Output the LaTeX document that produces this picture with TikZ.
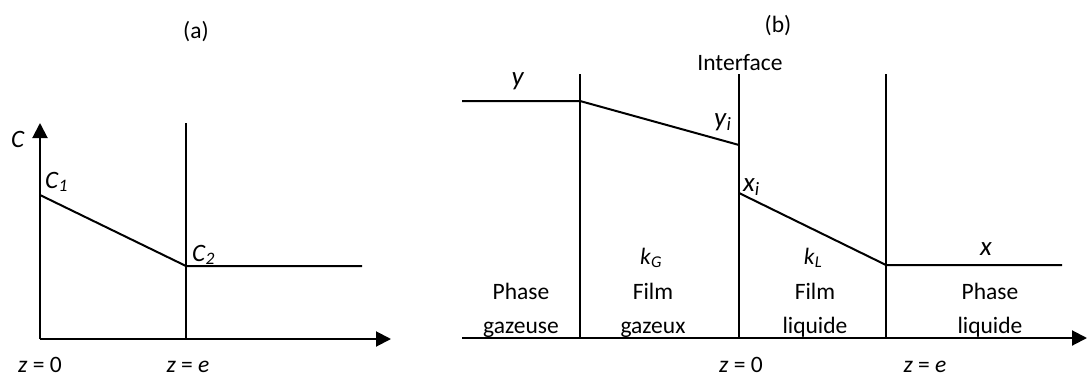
\documentclass[tikz,border=0pt]{standalone}
\usepackage{fontspec}
\setmainfont{Carlito}
\usetikzlibrary{arrows.meta}

\newcommand{\sub}[2]{\textit{#1}\textsubscript{\textit{#2}}}

\begin{document}
\begin{tikzpicture}[x=1pt, y=-1pt, line width=2pt,
	txt/.style={font=\fontsize{23.5}{28}\selectfont, inner sep=0pt, anchor=base},
	biglabel/.style={txt, font=\fontsize{27}{32}\selectfont},
	caplabel/.style={txt, font=\fontsize{25}{30}\selectfont},
	axis/.style={-{Triangle[length=15pt, width=15pt]}}]
	\useasboundingbox (0,0) rectangle (1087,378);
	% (a) concentration profile
	\node[txt] (titleA) at (196,38) {(a)};
	\coordinate (aO) at (40,339);
	\coordinate (aTop) at (40,123);
	\coordinate (aRight) at (391,339);
	\coordinate (aC1) at (40,195);
	\coordinate (aC2) at (186,266);
	\coordinate (aWallTop) at (186,123);
	\coordinate (aWallBot) at (186,339);
	\coordinate (aEnd) at (362,266);
	\draw[axis] (aO) -- (aTop);
	\draw[axis] (aO) -- (aRight);
	\draw (aWallTop) -- (aWallBot);
	\draw (aC1) -- (aC2) -- (aEnd);
	\node[caplabel] (labC) at (18,147) {\textit{C}};
	\node[caplabel, anchor=base west] (labC1) at (44,188) {\sub{C}{1}};
	\node[caplabel, anchor=base west] (labC2) at (191,261) {\sub{C}{2}};
	\node[txt] (zA0) at (40,372) {\textit{z} = 0};
	\node[txt] (zAe) at (188,372) {\textit{z} = \textit{e}};
	% (b) two films
	\node[txt] (titleB) at (778,32) {(b)};
	\node[txt] (labInter) at (740,70) {Interface};
	\coordinate (bO) at (462,338);
	\coordinate (bRight) at (1087,338);
	\coordinate (bG) at (580,338);
	\coordinate (bGTop) at (580,74);
	\coordinate (bI) at (739,338);
	\coordinate (bITop) at (739,74);
	\coordinate (bL) at (886,338);
	\coordinate (bLTop) at (886,74);
	\coordinate (bY) at (462,101);
	\coordinate (bY1) at (580,101);
	\coordinate (bYi) at (739,145);
	\coordinate (bXi) at (739,193);
	\coordinate (bX1) at (886,265);
	\coordinate (bX) at (1062,265);
	\draw[axis] (bO) -- (bRight);
	\draw (bGTop) -- (bG);
	\draw (bITop) -- (bI);
	\draw (bLTop) -- (bL);
	\draw (bY) -- (bY1) -- (bYi);
	\draw (bXi) -- (bX1) -- (bX);
	\node[biglabel] (labY) at (518,85) {\textit{y}};
	\node[biglabel, anchor=base west] (labYi) at (713,126) {\sub{y}{i}};
	\node[biglabel, anchor=base west] (labXi) at (742,191) {\sub{x}{i}};
	\node[biglabel] (labX) at (986,255) {\textit{x}};
	% zones
	\node[txt] (gasA) at (521,299) {Phase};
	\node[txt] (gasB) at (521,333) {gazeuse};
	\node[txt] (kG) at (651,264) {\sub{k}{G}};
	\node[txt] (gfA) at (653,299) {Film};
	\node[txt] (gfB) at (653,333) {gazeux};
	\node[txt] (kL) at (813,264) {\sub{k}{L}};
	\node[txt] (lfA) at (815,299) {Film};
	\node[txt] (lfB) at (815,333) {liquide};
	\node[txt] (liqA) at (990,299) {Phase};
	\node[txt] (liqB) at (990,333) {liquide};
	\node[txt] (zB0) at (741,372) {\textit{z} = 0};
	\node[txt] (zBe) at (925,372) {\textit{z} = \textit{e}};
\end{tikzpicture}
\end{document}
